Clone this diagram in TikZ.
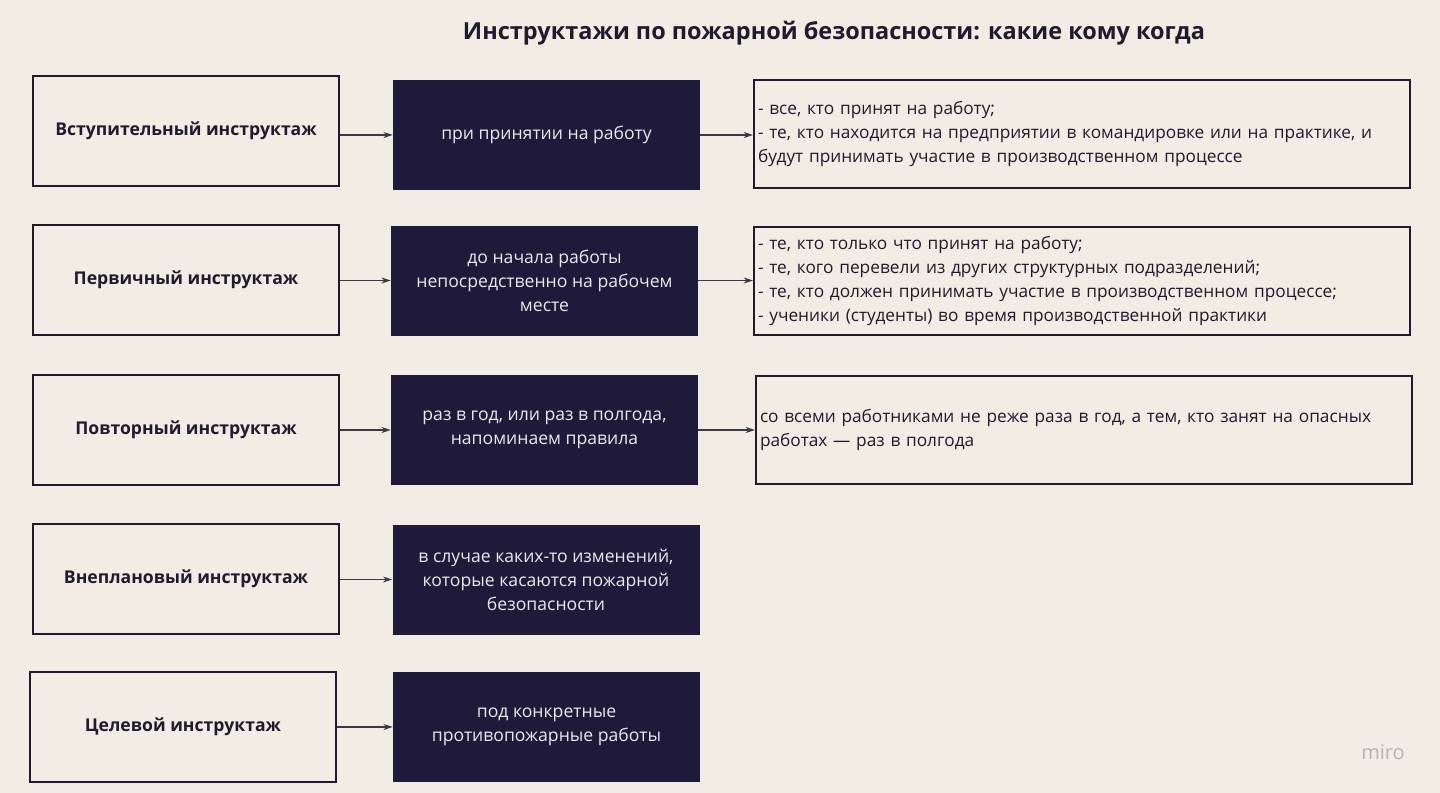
\documentclass[tikz,border=0pt]{standalone}
\usepackage{fontspec}
\setmainfont{Open Sans}
\usetikzlibrary{arrows.meta}
\definecolor{bg}{HTML}{F1ECE4}
\definecolor{navy}{HTML}{1F1A3A}
\definecolor{ink}{HTML}{1E1B2E}
\definecolor{lite}{HTML}{ECE8F0}
\definecolor{arrc}{HTML}{3A3A44}
\definecolor{logo}{HTML}{B4B4B4}
\begin{document}
\begin{tikzpicture}[x=0.75pt,y=-0.75pt,
  lbox/.style={draw=ink, line width=1.5pt, fill=bg, minimum width=229.5pt, minimum height=82.5pt, text=ink, font=\fontsize{13.2}{18}\selectfont\bfseries},
  dbox/.style={font=\fontsize{13.2}{18}\selectfont, fill=navy, draw=none, minimum width=230.25pt, minimum height=82.5pt, text=lite, align=center},
  rbox/.style={font=\fontsize{12.95}{18}\selectfont, draw=ink, line width=1.5pt, fill=bg, minimum width=492pt, minimum height=81pt, text=ink, inner xsep=3pt, text width=486pt, align=left},
  arr/.style={draw=arrc, line width=0.8pt, -{Stealth[length=7pt,width=4.5pt]}}
]
\useasboundingbox[fill=bg] (0,0) rectangle (1440,793);

\node[font=\fontsize{17.6}{21}\selectfont\bfseries, text=ink] (title) at (834,33) {Инструктажи по пожарной безопасности: какие кому когда};

% row 1
\node[lbox] (l1) at (186,131) {Вступительный инструктаж};
\node[dbox] (d1) at (546.5,135) {при принятии на работу};
\node[rbox] (r1) at (1082,134) {- все, кто принят на работу;\\- те, кто находится на предприятии в командировке или на практике, и будут принимать участие в производственном процессе};

% row 2
\node[lbox] (l2) at (186,280) {Первичный инструктаж};
\node[dbox] (d2) at (544.5,280.5) {до начала работы\\непосредственно на рабочем\\месте};
\node[rbox] (r2) at (1082,281) {- те, кто только что принят на работу;\\- те, кого перевели из других структурных подразделений;\\- те, кто должен принимать участие в производственном процессе;\\- ученики (студенты) во время производственной практики};

% row 3
\node[lbox] (l3) at (186,429.5) {Повторный инструктаж};
\node[dbox] (d3) at (544.5,430) {раз в год, или раз в полгода,\\напоминаем правила};
\node[rbox] (r3) at (1084,429.5) {со всеми работниками не реже раза в год, а тем, кто занят на опасных работах — раз в полгода};

% row 4
\node[lbox] (l4) at (186,578.5) {Внеплановый инструктаж};
\node[dbox] (d4) at (546,579.5) {в случае каких-то изменений,\\которые касаются пожарной\\безопасности};

% row 5
\node[lbox] (l5) at (183,726.5) {Целевой инструктаж};
\node[dbox] (d5) at (546.5,727) {под конкретные\\противопожарные работы};

\node[font=\fontsize{15}{18}\selectfont, text=logo] (miro) at (1383,752) {miro};

\draw[arr] (l1.east |- d1) -- (d1.west);
\draw[arr] (d1.east) -- (r1.west |- d1);
\draw[arr] (l2.east |- d2) -- (d2.west);
\draw[arr] (d2.east) -- (r2.west |- d2);
\draw[arr] (l3.east |- d3) -- (d3.west);
\draw[arr] (d3.east) -- (r3.west |- d3);
\draw[arr] (l4.east |- d4) -- (d4.west);
\draw[arr] (l5.east |- d5) -- (d5.west);
\end{tikzpicture}
\end{document}
